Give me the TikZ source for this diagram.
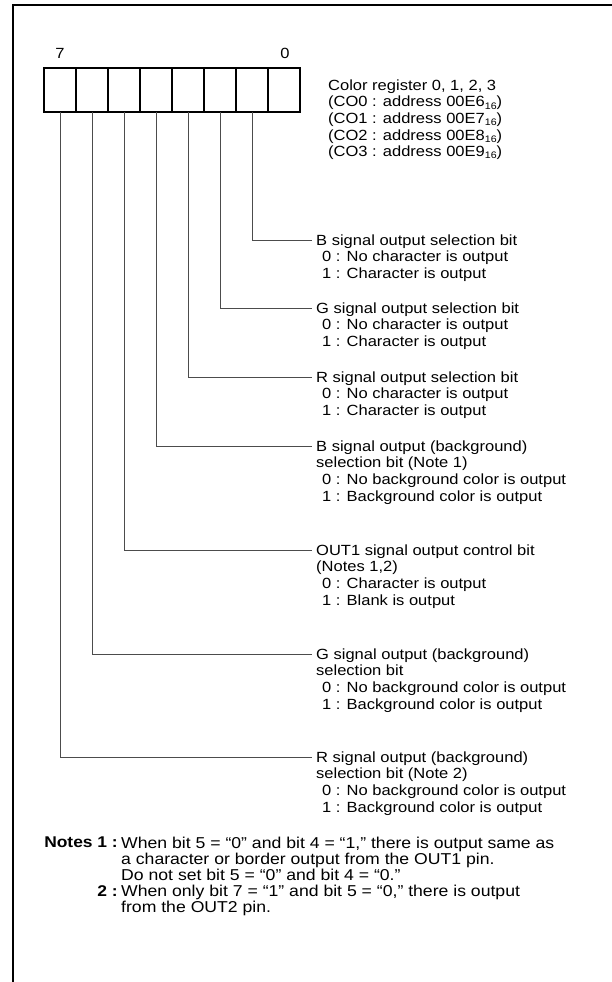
\documentclass[tikz,border=0pt]{standalone}
\usepackage{fontspec}
\setmainfont{Liberation Sans}[FakeStretch=1.12]
\usetikzlibrary{positioning}
\newcommand\hexsub[1]{\raisebox{-0.3ex}{\fontsize{9.5}{9.5}\selectfont #1}}
\newcommand\ind{\hspace*{6bp}}
\tikzset{
  frameline/.style = {line width=2.6bp, black},
  cell/.style      = {draw, line width=1.3bp, minimum width=32bp,
                      minimum height=44bp, inner sep=0pt, outer sep=0pt},
  leader/.style    = {line width=0.8bp, black!70},
  txt/.style       = {font=\fontsize{14.8}{16.6}\selectfont},
  desc/.style      = {txt, anchor=north west, align=left, inner sep=0pt},
  notetxt/.style   = {anchor=north west, align=left, inner sep=0pt,
                      font=\fontsize{15.8}{16.2}\selectfont},
  notelbl/.style   = {anchor=north east, inner sep=0pt,
                      font=\fontsize{15.6}{16.2}\selectfont\bfseries},
}

\begin{document}
\begin{tikzpicture}[x=1bp, y=-1bp]
  \useasboundingbox (0,0) rectangle (612,982);
  \draw[frameline] (612,5) -- (13,5) -- (13,982);

  % register cells, bit 7 on the left
  \foreach \b in {0,...,7}
    \node[cell] (b\b) at ({284-32*\b},90) {};
  \node[txt] (n7) at (60,53) {7};
  \node[txt] (n0) at (285,53) {0};

  \node[desc] (reg) at (328,79.5) {Color register 0, 1, 2, 3\\
    (CO0 : address 00E6\hexsub{16})\\
    (CO1 : address 00E7\hexsub{16})\\
    (CO2 : address 00E8\hexsub{16})\\
    (CO3 : address 00E9\hexsub{16})};

  % bit descriptions
  \node[desc] (d1) at (316,234.5) {B signal output selection bit\\
    \ind 0 : No character is output\\
    \ind 1 : Character is output};
  \node[desc] (d2) at (316,302.5) {G signal output selection bit\\
    \ind 0 : No character is output\\
    \ind 1 : Character is output};
  \node[desc] (d3) at (316,371.5) {R signal output selection bit\\
    \ind 0 : No character is output\\
    \ind 1 : Character is output};
  \node[desc] (d4) at (316,440.5) {B signal output (background)\\
    selection bit (Note 1)\\
    \ind 0 : No background color is output\\
    \ind 1 : Background color is output};
  \node[desc] (d5) at (316,544.5) {OUT1 signal output control bit\\
    (Notes 1,2)\\
    \ind 0 : Character is output\\
    \ind 1 : Blank is output};
  \node[desc] (d6) at (316,648.5) {G signal output (background)\\
    selection bit\\
    \ind 0 : No background color is output\\
    \ind 1 : Background color is output};
  \node[desc] (d7) at (316,751.5) {R signal output (background)\\
    selection bit (Note 2)\\
    \ind 0 : No background color is output\\
    \ind 1 : Background color is output};

  \foreach \b in {1,...,7}
    \draw[leader] (b\b.south) |- ([xshift=-4bp,yshift=-5.5bp]d\b.north west);

  % notes
  \node[notelbl] (nl1) at (118,836.5) {Notes 1 :};
  \node[notetxt] (nt1) at (121,836.5) {When bit 5 = “0” and bit 4 = “1,” there is output same as\\
    a character or border output from the OUT1 pin.\\
    Do not set bit 5 = “0” and bit 4 = “0.”};
  \node[notelbl] (nl2) at (118,885) {2 :};
  \node[notetxt] (nt2) at (121,885) {When only bit 7 = “1” and bit 5 = “0,” there is output\\
    from the OUT2 pin.};
\end{tikzpicture}
\end{document}
